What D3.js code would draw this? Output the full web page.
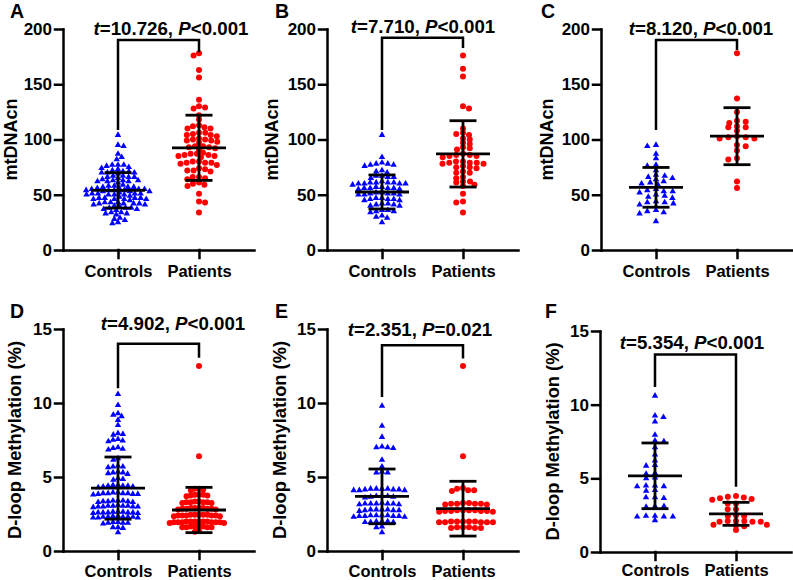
<!DOCTYPE html>
<html>
<head>
<meta charset="utf-8">
<script src="https://cdn.jsdelivr.net/npm/d3@7"></script>
<style>
  body { margin: 0; background: #fff; }
  text { font-family: "Liberation Sans", Arial, sans-serif; font-weight: bold; }
</style>
</head>
<body>
<svg id="chart" width="793" height="580"></svg>
<script>
// ---- data ----
var categories = ["Controls", "Patients"];
var panelLetters = ["A", "B", "C", "D", "E", "F"];
var yTitles = ["mtDNAcn", "mtDNAcn", "mtDNAcn", "D-loop Methylation (%)", "D-loop Methylation (%)", "D-loop Methylation (%)"];
var yTicksTop = [0, 50, 100, 150, 200];
var yTicksBottom = [0, 5, 10, 15];
var tValues = ["10.726", "7.710", "8.120", "4.902", "2.351", "5.354"];
var pValues = ["<0.001", "<0.001", "<0.001", "<0.001", "=0.021", "<0.001"];

var controlsA = [104, 95, 94, 87, 84, 82, 77, 77, 76, 75, 77, 74, 73, 72, 71, 70, 70, 69, 70, 71,
  67, 66, 66, 65, 67, 66, 63, 62, 63, 64, 62, 61, 63, 62, 58, 57, 56, 58, 57, 59, 56, 57,
  55, 54, 53, 54, 55, 53, 54, 55, 54, 53, 51, 50, 51, 50, 52, 51, 50, 49, 51, 50,
  47, 46, 47, 48, 46, 47, 45, 46, 47, 46, 43, 42, 42, 41, 43, 42, 40, 41, 42, 43,
  38, 37, 38, 36, 37, 38, 39, 34, 33, 32, 34, 33, 29, 28, 27, 25, 24];
var patientsA = [178, 176, 163, 156, 136, 130, 129, 128, 122, 118, 113, 112, 111, 110, 110, 106, 105, 104,
  106, 103, 104, 100, 100, 99, 98, 101, 99, 97, 94, 93, 92, 93, 91, 94, 88, 87, 86, 85, 84, 86, 87, 85,
  80, 79, 79, 78, 79, 77, 80, 73, 72, 71, 74, 72, 66, 65, 64, 66, 60, 59, 58, 61, 51, 44, 43, 34];

var controlsB = [104, 84, 79, 78, 77, 76, 78, 77, 72, 71, 70, 67, 66, 65, 66, 67, 61, 61, 60, 60, 61, 62,
  60, 59, 61, 60, 57, 56, 56, 55, 57, 56, 55, 56, 52, 51, 50, 51, 52, 50, 51, 50, 47, 46, 45, 46, 47,
  46, 45, 42, 41, 40, 41, 42, 40, 36, 35, 34, 35, 36, 30, 29, 31, 25];
var patientsB = [176, 164, 157, 130, 128, 110, 106, 105, 104, 101, 100, 97, 96, 93, 92, 91, 87, 86, 86,
  85, 85, 84, 80, 79, 79, 78, 79, 80, 78, 75, 76, 74, 75, 71, 70, 70, 66, 65, 62, 61, 62, 59, 58, 51,
  44, 43, 34];

var controlsC = [95, 94, 87, 83, 77, 76, 72, 68, 67, 66, 65, 64, 62, 61, 60, 59, 55, 54, 53, 52, 53, 50,
  49, 48, 47, 44, 43, 43, 42, 41, 36, 35, 34, 33, 26];
var patientsC = [178, 137, 125, 117, 116, 115, 112, 111, 111, 108, 102, 101, 102, 103, 101, 95, 94, 90,
  83, 82, 62, 56];

var controlsD = [10.6, 9.85, 9.3, 9.2, 9.1, 8.85, 8.5, 7.95, 7.9, 7.85, 7.55, 7.5, 7.45, 7.4, 7.0, 6.95,
  6.9, 6.85, 6.25, 6.15, 5.75, 5.7, 5.7, 5.65, 5.35, 5.3, 5.3, 5.25, 5.2, 4.9, 4.85, 4.8, 4.45, 4.4,
  4.4, 4.35, 4.45, 4.4, 4.35, 4.3, 3.95, 3.9, 3.9, 3.85, 3.95, 3.9, 3.85, 3.8, 3.9, 3.85, 3.4, 3.35,
  3.4, 3.35, 3.3, 3.4, 3.35, 3.3, 3.05, 3.0, 3.05, 3.0, 3.1, 3.05, 3.0, 2.95, 3.05, 3.0, 2.65, 2.6,
  2.6, 2.55, 2.65, 2.6, 2.6, 2.55, 2.6, 2.65, 2.3, 2.3, 2.25, 2.35, 2.3, 2.25, 2.3, 2.35, 2.3, 2.25,
  1.95, 1.9, 1.9, 1.85, 1.95, 1.9, 1.6, 1.6, 1.55, 1.25];
var patientsD = [12.5, 6.4, 4.2, 4.15, 4.2, 4.1, 3.8, 3.75, 3.8, 3.7, 3.8, 3.75, 3.35, 3.3, 3.3, 3.25,
  3.35, 3.3, 3.3, 3.25, 2.9, 2.85, 2.9, 2.85, 2.8, 2.9, 2.85, 2.9, 2.85, 2.8, 2.45, 2.4, 2.45, 2.4,
  2.45, 2.4, 2.35, 2.45, 2.4, 2.45, 2.4, 2.35, 2.0, 1.95, 2.0, 1.95, 2.0, 1.95, 1.9, 2.0, 1.95, 2.0,
  1.95, 1.9, 2.0, 1.95, 1.65, 1.6, 1.65, 1.6, 1.65, 1.6, 1.6, 1.65, 1.35, 1.3];

var controlsE = [9.8, 8.45, 7.7, 7.05, 7.0, 7.0, 6.95, 6.15, 5.7, 5.35, 5.3, 5.3, 4.2, 4.15, 4.2, 4.1,
  4.2, 4.15, 4.1, 4.2, 4.15, 4.1, 3.7, 3.65, 3.7, 3.65, 3.7, 3.6, 3.2, 3.2, 3.15, 3.2, 3.25, 3.2, 3.15,
  3.2, 2.8, 2.75, 2.8, 2.75, 2.7, 2.8, 2.75, 2.8, 2.4, 2.35, 2.4, 2.35, 2.3, 2.4, 2.35, 2.4, 2.3, 2.35,
  2.0, 1.95, 2.0, 1.95, 2.0, 1.95, 1.65, 1.6, 1.25];
var patientsE = [12.5, 6.4, 4.25, 4.2, 4.1, 4.05, 4.1, 3.2, 3.2, 3.15, 3.25, 3.2, 3.15, 3.2, 3.25, 2.75,
  2.7, 2.75, 2.7, 2.65, 2.75, 2.7, 2.75, 2.7, 2.65, 2.0, 1.95, 2.0, 1.95, 2.0, 1.95, 2.0, 1.95, 2.0,
  1.95, 1.6, 1.55, 1.6, 1.55, 1.6, 1.55];

var controlsF = [10.6, 9.25, 9.15, 8.85, 7.95, 7.55, 7.5, 7.1, 6.6, 6.2, 5.9, 5.85, 5.35, 5.3, 5.05, 5.0,
  4.5, 4.45, 4.5, 4.45, 4.2, 4.15, 3.7, 3.7, 3.65, 3.1, 3.1, 3.05, 2.45, 2.4, 2.45, 2.4, 2.4, 2.15];
var patientsF = [3.8, 3.75, 3.7, 3.65, 3.6, 3.55, 3.3, 3.3, 2.9, 2.9, 2.5, 2.45, 2.45, 2.1, 2.05, 2.1,
  2.05, 2.1, 2.05, 1.85, 1.8, 1.85, 1.75, 1.5];

// mean and SD bars as drawn
var meanControls = [54, 52.5, 56.7, 4.25, 3.69, 5.17];
var sdControls = [16, 15.4, 18, 2.1, 1.85, 2.23];
var meanPatients = [92.5, 87, 103, 2.77, 2.86, 2.59];
var sdPatients = [29.5, 30, 25.8, 1.53, 1.85, 0.78];

// significance bracket (in data units)
var bracketTop = [190, 192, 190, 14.0, 13.9, 13.4];
var bracketLeftEnd = [108.6, 108.6, 108.6, 11.0, 10.4, 11.2];
var bracketRightEnd = [179, 182.8, 181, 13.06, 13.0, 4.43];

var controlsAll = [controlsA, controlsB, controlsC, controlsD, controlsE, controlsF];
var patientsAll = [patientsA, patientsB, patientsC, patientsD, patientsE, patientsF];

// ---- layout ----
var panelX = [63, 327, 601, 63, 327, 600];
var panelY = [29, 29, 29, 329, 329, 331];
var panelH = [221, 221, 221, 222, 222, 221];
var axisW = 191;
var letterX = [10, 275, 541, 10, 275, 545];
var letterY = [18, 18, 18, 318, 318, 318];
var statX = [171, 423, 701, 173, 420, 692];
var statY = [35, 33, 35, 330, 336, 349];
var titleOffset = [-46, -49, -48, -42, -41, -41];
var labelPad = [7, 7, 7, 6, 6, 4];
var spacing = [[5.8, 6.3], [6, 7], [9, 9], [5, 4.2], [5.7, 6], [9, 8.3]];
var rowGap = 4.3;

var blue = "#0000ff", red = "#ff0000";

var svg = d3.select("#chart");

// simple beeswarm: elliptical collision, nearest-to-centre placement
function swarm(values, y, dx) {
  var pts = values.map(function(v) { return { v: v, y: y(v) }; })
    .sort(function(a, b) { return a.y - b.y; });
  var placed = [];
  var flip = 1;
  pts.forEach(function(p) {
    var ivs = [];
    placed.forEach(function(q) {
      var d = Math.abs(q.y - p.y) / rowGap;
      if (d < 1) {
        var w = dx * Math.sqrt(1 - d * d);
        ivs.push([q.x - w, q.x + w]);
      }
    });
    var cands = [0];
    ivs.forEach(function(iv) { cands.push(iv[0], iv[1]); });
    var best = null;
    cands.forEach(function(c) {
      var inside = ivs.some(function(iv) { return c > iv[0] + 1e-6 && c < iv[1] - 1e-6; });
      if (inside) return;
      if (best === null || Math.abs(c) < Math.abs(best) - 1e-6 ||
          (Math.abs(Math.abs(c) - Math.abs(best)) < 1e-6 && c * flip > 0)) best = c;
    });
    flip = -flip;
    p.x = best;
    placed.push(p);
  });
  return pts;
}

function drawPanel(i) {
  var h = panelH[i];
  var top = i < 3;
  var g = svg.append("g")
    .attr("transform", "translate(" + panelX[i] + "," + panelY[i] + ")");

  var x = d3.scalePoint().domain(categories).range([0, axisW]).padding(0.679);
  var y = d3.scaleLinear().domain([0, top ? 200 : 15]).range([h, 0]);

  // points
  var groups = [controlsAll[i], patientsAll[i]];
  groups.forEach(function(vals, k) {
    var pts = swarm(vals, y, spacing[i][k]);
    var cx = x(categories[k]);
    if (k === 0) {
      g.selectAll(".tri" + i)
        .data(pts)
        .enter().append("path")
        .attr("d", d3.symbol().type(d3.symbolTriangle).size(18))
        .attr("transform", function(d) { return "translate(" + (cx + d.x) + "," + d.y + ")"; })
        .attr("fill", blue);
    } else {
      g.selectAll(".dot" + i)
        .data(pts)
        .enter().append("circle")
        .attr("cx", function(d) { return cx + d.x; })
        .attr("cy", function(d) { return d.y; })
        .attr("r", 3)
        .attr("fill", red);
    }
  });

  // mean +- SD
  var means = [meanControls[i], meanPatients[i]];
  var sds = [sdControls[i], sdPatients[i]];
  categories.forEach(function(c, k) {
    var cx = x(c);
    var eb = g.append("g").attr("stroke", "#000").attr("stroke-width", 2.8);
    eb.append("line").attr("x1", cx).attr("x2", cx)
      .attr("y1", y(means[k] + sds[k])).attr("y2", y(means[k] - sds[k]));
    eb.append("line").attr("x1", cx - 27).attr("x2", cx + 27)
      .attr("y1", y(means[k])).attr("y2", y(means[k]));
    [means[k] + sds[k], means[k] - sds[k]].forEach(function(v) {
      eb.append("line").attr("x1", cx - 13.5).attr("x2", cx + 13.5)
        .attr("y1", y(v)).attr("y2", y(v));
    });
  });

  // bracket
  var x0 = x(categories[0]), x1 = x(categories[1]);
  g.append("path")
    .attr("d", "M" + x0 + "," + y(bracketLeftEnd[i]) + "V" + y(bracketTop[i]) +
      "H" + x1 + "V" + y(bracketRightEnd[i]))
    .attr("fill", "none")
    .attr("stroke", "#000")
    .attr("stroke-width", 2.5);

  // axes
  var yAxis = d3.axisLeft(y)
    .tickValues(top ? yTicksTop : yTicksBottom)
    .tickSize(8).tickSizeOuter(0).tickPadding(3);
  var ya = g.append("g").attr("class", "axis y-axis").call(yAxis);

  var xAxis = d3.axisBottom(x).tickSize(8).tickSizeOuter(0).tickPadding(labelPad[i]);
  var xa = g.append("g").attr("class", "axis x-axis")
    .attr("transform", "translate(0," + h + ")")
    .call(xAxis);

  [ya, xa].forEach(function(a) {
    a.attr("font-family", null).attr("font-size", null);
    a.selectAll("path, line").attr("stroke", "#000").attr("stroke-width", 2.5)
      .attr("stroke-linecap", "square");
    a.selectAll("text").attr("fill", "#000");
  });
  ya.selectAll("text").attr("font-size", 17);
  xa.selectAll("text").attr("font-size", 16.5);

  // y title
  g.append("text")
    .attr("transform", "translate(" + titleOffset[i] + "," + (h / 2) + ") rotate(-90)")
    .attr("text-anchor", "middle")
    .attr("font-size", top ? 18 : 18.3)
    .text(yTitles[i]);

  // stat label
  var st = svg.append("text")
    .attr("x", statX[i]).attr("y", statY[i])
    .attr("text-anchor", "middle")
    .attr("font-size", 18.7);
  st.append("tspan").attr("font-style", "italic").text("t");
  st.append("tspan").text("=" + tValues[i] + ", ");
  st.append("tspan").attr("font-style", "italic").text("P");
  st.append("tspan").text(pValues[i]);

  // panel letter
  svg.append("text")
    .attr("x", letterX[i]).attr("y", letterY[i])
    .attr("font-size", 19.5)
    .text(panelLetters[i]);
}

for (var i = 0; i < 6; i++) drawPanel(i);
</script>
</body>
</html>
